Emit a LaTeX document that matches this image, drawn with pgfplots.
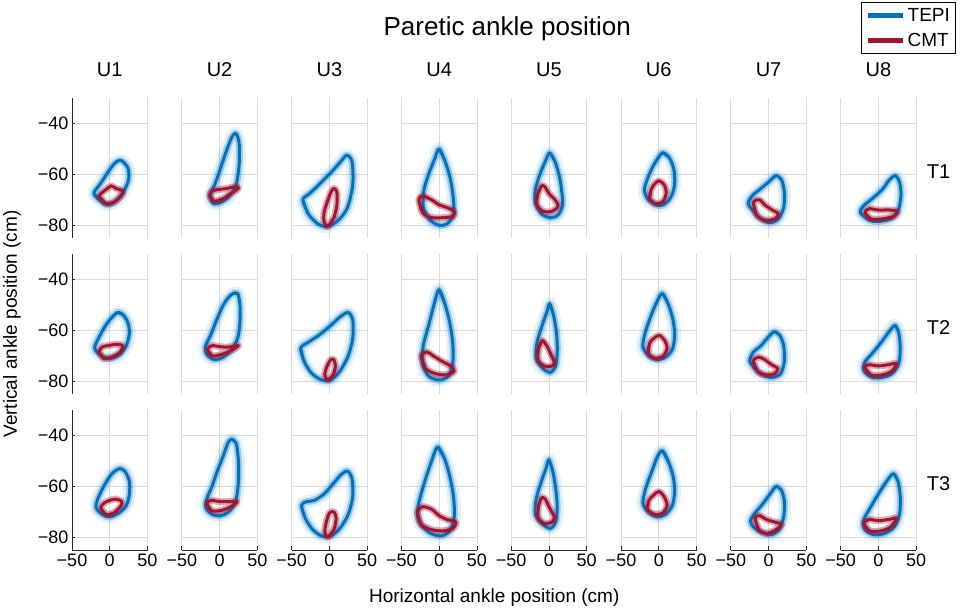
\documentclass[border=0pt]{standalone}
\usepackage{pgfplots}
\pgfplotsset{compat=1.18}
\usepgfplotslibrary{groupplots}
\usepackage{fontspec}
\setmainfont{Liberation Sans}
\definecolor{tepi}{RGB}{0,114,189}
\definecolor{cmt}{RGB}{162,20,47}
\definecolor{axc}{RGB}{38,38,38}
\pgfplotsset{
  tbandA/.style={color=tepi, line width=13pt, opacity=0.1, smooth, forget plot, no markers, line join=round},
  tbandB/.style={color=tepi, line width=7pt, opacity=0.3, smooth, forget plot, no markers, line join=round},
  tline/.style={color=tepi, line width=3pt, smooth, forget plot, no markers, line join=round},
  cband/.style={color=cmt, line width=7pt, opacity=0.35, smooth, forget plot, no markers, line join=round},
  cline/.style={color=cmt, line width=3pt, smooth, forget plot, no markers, line join=round},
  ycol/.style={yticklabels={−80,−60,−40}, ytick style={draw=axc, line width=0.7pt}},
  xrow/.style={xticklabels={−50,0,50}, xtick style={draw=axc, line width=0.7pt}},
}
\newcommand{\tepi}[1]{\addplot[tbandA] coordinates {#1};\addplot[tbandB] coordinates {#1};\addplot[tline] coordinates {#1};}
\newcommand{\cmt}[1]{\addplot[cband] coordinates {#1};\addplot[cline] coordinates {#1};}
\newcommand{\yline}{\draw[axc, line width=0.8pt] (rel axis cs:0,0) -- (rel axis cs:0,1);}
\newcommand{\xline}{\draw[axc, line width=0.8pt] (rel axis cs:0,0) -- (rel axis cs:1,0);}
\newcommand{\ulab}[1]{\node[anchor=base, font=\fontsize{20}{24}\selectfont] at (axis cs:0,-21.7) {#1};}
\newcommand{\tlab}[1]{\node[anchor=center, font=\fontsize{20}{24}\selectfont] at (axis cs:79.8,-59) {#1};}
\begin{document}
\begin{tikzpicture}
\begin{groupplot}[
  group style={group size=8 by 3, horizontal sep=34.3pt, vertical sep=16pt, group name=group},
  scale only axis, width=75.5pt, height=140pt,
  xmin=-50, xmax=50, ymin=-85, ymax=-30,
  xtick={-50,0,50}, ytick={-80,-60,-40},
  xticklabels={}, yticklabels={},
  xtick pos=left, ytick pos=left, tick align=inside, major tick length=3.5pt,
  tick style={draw=none}, axis line style={draw=none},
  grid=major, major grid style={draw=black!14, line width=0.7pt},
  tick label style={font=\fontsize{18}{21}\selectfont},
  clip=false,
  legend image code/.code={\draw[#1] (0pt,0pt) -- (35pt,0pt);},
]
% ---------- Row 1 (T1) ----------
\nextgroupplot[ycol]
\yline \ulab{U1}
\tepi{(-21,-67.5) (-12,-70.5) (-3,-72) (8,-70.5) (18,-67) (25,-62) (24,-57.5) (15,-54.5) (7,-55.5) (-2,-59) (-12,-63.5) (-21,-67.5) (-12,-70.5)}
\cmt{(-14,-68.5) (-5,-71.5) (5,-71) (15,-68.5) (17,-66.5) (8,-65.5) (2,-64.5) (-5,-66) (-14,-68.5) (-5,-71.5)}
\nextgroupplot
\ulab{U2}
\tepi{(-13,-69) (-8,-71.5) (2,-71) (13,-68.5) (22,-64) (26,-56) (26,-48) (22,-44) (17,-45) (10,-50) (2,-57) (-5,-63) (-11,-67) (-13,-69) (-8,-71.5)}
\cmt{(-13,-68) (-8,-70.5) (5,-69.5) (15,-67.5) (25,-65.5) (22,-64.8) (10,-65.5) (-2,-66) (-10,-66.5) (-13,-68) (-8,-70.5)}
\nextgroupplot
\ulab{U3}
\tepi{(-35,-70) (-28,-75.5) (-15,-79.5) (-2,-80.5) (12,-78) (24,-73) (31,-64) (30,-55) (23,-52.5) (15,-55) (3,-59) (-12,-63.5) (-26,-67.5) (-35,-70) (-28,-75.5)}
\cmt{(-2,-80.5) (6,-77) (10,-72) (10,-67) (6,-65.5) (2,-67) (-3,-71) (-7,-75) (-7,-78.5) (-2,-80.5) (6,-77)}
\nextgroupplot
\ulab{U4}
\tepi{(0,-50) (8,-55) (15,-62) (19,-70) (19,-76) (10,-79.5) (0,-80) (-12,-78) (-21,-73) (-20,-66) (-14,-60) (-6,-54) (0,-50) (8,-55)}
\cmt{(-27,-70) (-22,-75) (-10,-77) (5,-77) (18,-76.5) (20,-74.5) (10,-73) (0,-72) (-10,-70) (-22,-68.5) (-27,-70) (-22,-75)}
\nextgroupplot
\ulab{U5}
\node[anchor=base, font=\fontsize{26}{30}\selectfont] at (axis cs:-55.3,-5.25) {Paretic ankle position};
\tepi{(1,-51.5) (8,-55) (14,-61) (17,-67) (18,-72) (12,-76) (2,-77) (-10,-75.5) (-18,-71) (-18,-66) (-12,-60) (-5,-55) (1,-51.5) (8,-55)}
\cmt{(-10,-64.5) (-15,-68) (-16,-72) (-8,-74.5) (4,-74.5) (12,-72.5) (8,-70) (0,-67.5) (-5,-65) (-10,-64.5) (-15,-68)}
\nextgroupplot
\ulab{U6}
\tepi{(5,-51.5) (14,-53.5) (20,-58) (21,-64) (16,-69) (6,-72) (-4,-72) (-15,-69.5) (-19,-66) (-14,-61) (-6,-56) (5,-51.5) (14,-53.5)}
\cmt{(-10,-66) (-12,-69.5) (-4,-71.5) (6,-70.5) (10,-67) (7,-64) (0,-62.5) (-6,-64) (-10,-66) (-12,-69.5)}
\nextgroupplot
\ulab{U7}
\tepi{(10,-60.5) (17,-62) (21,-67) (20,-73) (13,-77.5) (2,-79) (-10,-77.5) (-20,-74.5) (-27,-71.5) (-22,-68.5) (-12,-66) (0,-63) (10,-60.5) (17,-62)}
\cmt{(-20,-71) (-16,-76) (-5,-78) (8,-77.5) (13,-75.5) (5,-74) (-5,-72) (-12,-70) (-20,-71) (-16,-76)}
\nextgroupplot[legend style={at={(1.533,1.686)}, anchor=north east, draw=black, line width=0.9pt, font=\fontsize{19}{22}\selectfont, legend cell align=left, inner sep=4pt, row sep=6pt, nodes={inner sep=2pt}}]
\ulab{U8} \tlab{T1}
\addlegendimage{color=tepi, line width=5pt}\addlegendentry{TEPI}
\addlegendimage{color=cmt, line width=5pt}\addlegendentry{CMT}
\tepi{(23,-60.5) (28,-63) (30,-68) (26,-74.5) (16,-77.5) (0,-78.5) (-12,-78) (-24,-75) (-20,-72.5) (-8,-69.5) (5,-66) (15,-62) (23,-60.5) (28,-63)}
\cmt{(-18,-75) (-10,-77.5) (5,-77.5) (20,-76.5) (25,-74.5) (15,-74) (0,-74) (-12,-73.5) (-18,-75) (-10,-77.5)}
% ---------- Row 2 (T2) ----------
\nextgroupplot[ycol]
\yline
\node[rotate=90, anchor=center, font=\fontsize{19}{23}\selectfont] at (axis cs:-129.5,-57.5) {Vertical ankle position (cm)};
\tepi{(10,-53) (18,-54) (24,-57) (26,-61) (22,-66) (13,-69.5) (2,-71) (-8,-70.5) (-17,-68.5) (-20,-66.5) (-13,-62) (-3,-57) (10,-53) (18,-54)}
\cmt{(-14,-68.5) (-8,-71) (3,-70.5) (14,-68.5) (17,-66) (8,-65.5) (-2,-66) (-10,-66.5) (-14,-68.5) (-8,-71)}
\nextgroupplot
\tepi{(18,-45.5) (24,-45.5) (27,-50) (27,-57) (24,-63) (16,-67.5) (5,-70.5) (-7,-71.5) (-17,-69.5) (-19,-66.5) (-12,-62) (-4,-56) (5,-50) (12,-47) (18,-45.5) (24,-45.5)}
\cmt{(-16,-67.5) (-10,-70) (2,-69.5) (15,-68) (25,-66) (15,-66.5) (3,-66.5) (-10,-66) (-16,-67.5) (-10,-70)}
\nextgroupplot
\tepi{(-38,-67) (-33,-72.5) (-23,-77) (-10,-79.5) (2,-79.5) (14,-76) (25,-70) (31,-63) (31,-56) (25,-53) (15,-54.5) (2,-58) (-12,-61.5) (-27,-64.5) (-38,-67) (-33,-72.5)}
\cmt{(-2,-79.5) (5,-77.5) (8,-74) (6,-71.5) (2,-71.5) (-3,-74) (-6,-77.5) (-2,-79.5) (5,-77.5)}
\nextgroupplot
\tepi{(0,-44) (8,-50) (14,-57) (18,-65) (18,-73) (12,-78) (0,-79.5) (-14,-78) (-22,-73) (-21,-66) (-13,-57) (-6,-49) (0,-44) (8,-50)}
\cmt{(-24,-70) (-18,-75) (-5,-77) (10,-77.5) (20,-76) (15,-74) (3,-72) (-8,-70) (-16,-68.5) (-24,-70) (-18,-75)}
\nextgroupplot
\tepi{(1,-49.5) (6,-54) (10,-61) (11,-68) (9,-74) (2,-76.5) (-8,-75) (-17,-71) (-16,-65) (-9,-58) (-3,-53) (1,-49.5) (6,-54)}
\cmt{(-9,-64) (-14,-67.5) (-14,-72) (-6,-74) (4,-74) (7,-72.5) (2,-69) (-3,-66) (-9,-64) (-14,-67.5)}
\nextgroupplot
\tepi{(5,-45.5) (13,-50) (19,-56) (21,-62) (18,-67.5) (9,-70.5) (-2,-71.5) (-13,-70) (-21,-66.5) (-18,-61) (-10,-54) (-2,-48.5) (5,-45.5) (13,-50)}
\cmt{(-12,-65) (-14,-69) (-5,-71) (6,-70) (11,-67) (8,-64) (1,-62) (-6,-63) (-12,-65) (-14,-69)}
\nextgroupplot
\tepi{(8,-60.5) (15,-62) (20,-66) (21,-72) (16,-77) (5,-78.5) (-8,-77.5) (-18,-75) (-25,-72) (-20,-68.5) (-10,-66) (0,-62.5) (8,-60.5) (15,-62)}
\cmt{(-20,-72) (-15,-76) (-4,-77.5) (8,-77) (12,-75) (4,-73.5) (-5,-71.5) (-13,-70.5) (-20,-72) (-15,-76)}
\nextgroupplot
\tlab{T2}
\tepi{(22,-58) (27,-61) (29,-67) (27,-73) (18,-77) (5,-78.5) (-8,-78.5) (-19,-76) (-18,-72.5) (-8,-69) (3,-65) (13,-61) (22,-58) (27,-61)}
\cmt{(-18,-74.5) (-10,-77.5) (5,-77.5) (18,-76) (24,-73) (13,-73.5) (0,-74) (-12,-73.5) (-18,-74.5) (-10,-77.5)}
% ---------- Row 3 (T3) ----------
\nextgroupplot[ycol, xrow]
\yline \xline
\tepi{(13,-53) (20,-54) (26,-58) (26,-63) (22,-67.5) (12,-70.5) (0,-72) (-10,-71) (-18,-68.5) (-16,-65) (-7,-59.5) (3,-55) (13,-53) (20,-54)}
\cmt{(-12,-68.5) (-5,-71) (5,-70.5) (14,-68) (16,-66) (8,-65) (0,-65.5) (-7,-66.5) (-12,-68.5) (-5,-71)}
\nextgroupplot[xrow]
\xline
\tepi{(16,-41.5) (22,-43) (25,-50) (25,-58) (22,-65) (14,-69.5) (2,-71.5) (-10,-71) (-18,-68.5) (-17,-65) (-10,-60) (-3,-54) (5,-48) (11,-43) (16,-41.5) (22,-43)}
\cmt{(-17,-66.5) (-11,-69.5) (2,-69.5) (15,-68) (23,-66) (12,-66) (0,-66) (-10,-65.5) (-17,-66.5) (-11,-69.5)}
\nextgroupplot[xrow]
\xline
\tepi{(-37,-67.5) (-32,-72.5) (-22,-77) (-10,-79.5) (2,-79.5) (14,-76.5) (25,-71) (31,-64) (30,-57) (24,-54) (15,-55.5) (5,-59) (-7,-63) (-20,-65.5) (-30,-66) (-37,-67.5) (-32,-72.5)}
\cmt{(-2,-80) (6,-77) (9,-72.5) (6,-70) (0,-70.5) (-4,-74) (-6,-78) (-2,-80) (6,-77)}
\nextgroupplot[xrow]
\xline
\node[anchor=base, font=\fontsize{19}{23}\selectfont] at (axis cs:73,-105.8) {Horizontal ankle position (cm)};
\tepi{(-2,-44.5) (7,-49) (14,-56) (19,-64) (20,-72) (14,-77.5) (2,-79.5) (-14,-78) (-27,-73.5) (-28,-68) (-20,-59) (-10,-50) (-2,-44.5) (7,-49)}
\cmt{(-29,-70) (-24,-75) (-10,-77) (5,-77.5) (18,-76.5) (22,-74) (10,-73) (0,-71.5) (-10,-69) (-22,-68) (-29,-70) (-24,-75)}
\nextgroupplot[xrow]
\xline
\tepi{(0,-49.5) (5,-54) (9,-61) (11,-68) (9,-74) (2,-76.5) (-8,-75) (-18,-71) (-17,-65) (-10,-58) (-4,-53) (0,-49.5) (5,-54)}
\cmt{(-10,-64.5) (-14,-68) (-14,-72.5) (-6,-74.5) (4,-74) (7,-72) (0,-68) (-5,-65) (-10,-64.5) (-14,-68)}
\nextgroupplot[xrow]
\xline
\tepi{(5,-46) (13,-50.5) (19,-56) (21,-62) (18,-67.5) (9,-71) (-2,-72) (-14,-70) (-21,-66.5) (-17,-60.5) (-9,-54) (-2,-48.5) (5,-46) (13,-50.5)}
\cmt{(-13,-65.5) (-15,-69) (-6,-71) (5,-70.5) (11,-67.5) (7,-64) (0,-62) (-7,-63.5) (-13,-65.5) (-15,-69)}
\nextgroupplot[xrow]
\xline
\tepi{(10,-60) (17,-61.5) (21,-66) (20,-72) (14,-77) (3,-79) (-10,-78) (-20,-76) (-24,-73.5) (-18,-70.5) (-8,-67) (2,-63) (10,-60) (17,-61.5)}
\cmt{(-18,-72.5) (-13,-77) (-2,-78.5) (10,-77) (17,-75) (8,-74) (-3,-73) (-12,-71.5) (-18,-72.5) (-13,-77)}
\nextgroupplot[xrow]
\xline \tlab{T3}
\tepi{(20,-55) (26,-58) (29,-64) (28,-71) (21,-76) (8,-78.5) (-6,-79) (-18,-77) (-20,-73.5) (-10,-68) (0,-63) (11,-58) (20,-55) (26,-58)}
\cmt{(-19,-74.5) (-12,-77.5) (3,-77.5) (16,-76) (24,-72.5) (14,-73) (0,-73.5) (-12,-73) (-19,-74.5) (-12,-77.5)}
\end{groupplot}
\pgfresetboundingbox
\path[shift={(group c1r1.south west)}] (-72pt,-375pt) rectangle (888pt,238pt);
\end{tikzpicture}
\end{document}
